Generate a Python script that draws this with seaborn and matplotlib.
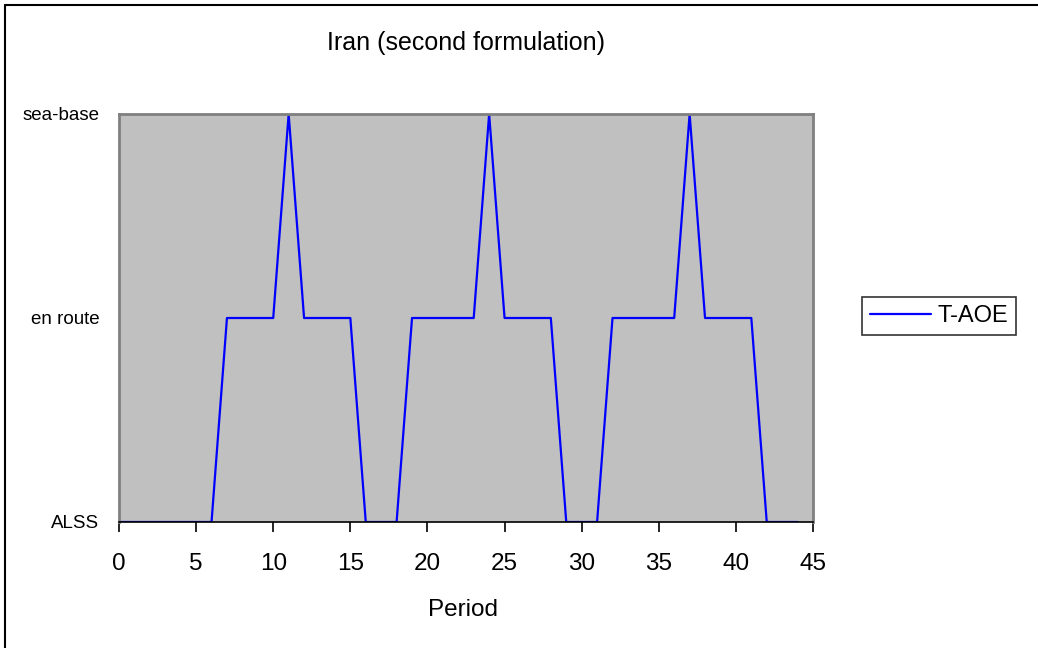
import matplotlib
matplotlib.use("Agg")
import matplotlib.pyplot as plt
import seaborn as sns
import pandas as pd
from matplotlib.lines import Line2D

periods = list(range(0, 45))
levels = [0, 0, 0, 0, 0, 0, 0, 1, 1, 1, 1, 2, 1, 1, 1, 1,
          0, 0, 0, 1, 1, 1, 1, 1, 2, 1, 1, 1, 1,
          0, 0, 0, 1, 1, 1, 1, 1, 2, 1, 1, 1, 1,
          0, 0, 0]
level_labels = ["ALSS", "en route", "sea-base"]
series_name = "T-AOE"
x_ticks = [0, 5, 10, 15, 20, 25, 30, 35, 40, 45]

df = pd.DataFrame({"Period": periods, "Level": levels, "Series": series_name})

sns.set_theme(style="white")
plt.rcParams["font.family"] = ["Liberation Sans", "DejaVu Sans"]
plt.rcParams["text.color"] = "black"
plt.rcParams["xtick.color"] = "black"
plt.rcParams["ytick.color"] = "black"
plt.rcParams["axes.labelcolor"] = "black"

fig = plt.figure(figsize=(10.38, 6.48), dpi=100)
ax = fig.add_axes([119/1038, 1-522/648, (813-119)/1038, (522-114)/648])
ax.set_facecolor("#C0C0C0")

sns.lineplot(data=df, x="Period", y="Level", hue="Series", palette=["#0000FF"],
             linewidth=1.6, ax=ax, legend=False)

ax.set_xlim(0, 45)
ax.set_ylim(0, 2)
ax.set_xticks(x_ticks)
ax.set_xticklabels([str(t) for t in x_ticks], fontsize=17.5)
ax.set_yticks([0, 1, 2])
ax.set_yticklabels(level_labels, fontsize=13.5)
ax.tick_params(axis="x", direction="out", length=7, width=1.2, color="black", pad=15, bottom=True)
ax.tick_params(axis="y", length=0, pad=14)
ax.set_xlabel("")
ax.set_ylabel("")

for s in ["top", "right", "left"]:
    ax.spines[s].set_color("#808080")
    ax.spines[s].set_linewidth(2)
ax.spines["bottom"].set_color("black")
ax.spines["bottom"].set_linewidth(1.2)

fig.text(466/1038, 1-43/648, "Iran (second formulation)", ha="center", va="center", fontsize=18)
fig.text(463/1038, 1-610/648, "Period", ha="center", va="center", fontsize=17.5)

handle = Line2D([0], [0], color="#0000FF", linewidth=1.6)
leg = fig.legend([handle], [series_name], loc="center", bbox_to_anchor=(939/1038, 1-316/648),
                 fontsize=17, frameon=True, fancybox=False, handlelength=2.6,
                 handletextpad=0.25, borderpad=0.35, borderaxespad=0)
leg.get_frame().set_edgecolor("black")
leg.get_frame().set_linewidth(1.2)

# outer chart frame (left and top edges visible)
fig.add_artist(Line2D([5/1038, 5/1038], [0, 1-5/648], transform=fig.transFigure, color="black", linewidth=1.5))
fig.add_artist(Line2D([5/1038, 1], [1-5/648, 1-5/648], transform=fig.transFigure, color="black", linewidth=1.5))

fig.savefig("out.png", dpi=100)
